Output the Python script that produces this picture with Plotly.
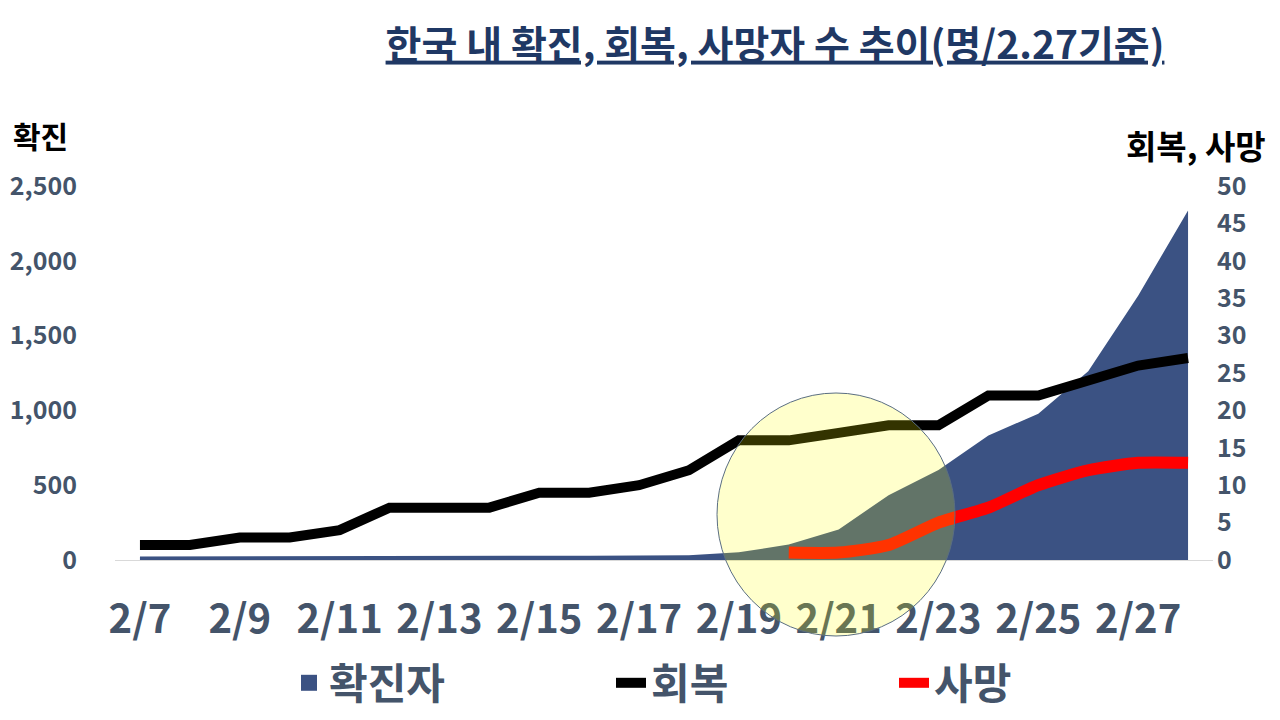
import plotly.graph_objects as go

dates = ["2/7", "2/8", "2/9", "2/10", "2/11", "2/12", "2/13", "2/14", "2/15", "2/16", "2/17",
         "2/18", "2/19", "2/20", "2/21", "2/22", "2/23", "2/24", "2/25", "2/26", "2/27", "2/28"]
confirmed = [24, 24, 25, 27, 28, 28, 28, 28, 28, 29, 30, 31, 51, 104, 204, 433, 602, 833, 977, 1261, 1766, 2337]
recovered = [2, 2, 3, 3, 4, 7, 7, 7, 9, 9, 10, 12, 16, 16, 17, 18, 18, 22, 22, 24, 26, 27]
death_dates = ["2/20", "2/21", "2/22", "2/23", "2/24", "2/25", "2/26", "2/27", "2/28"]
deaths = [1, 1, 2, 5, 7, 10, 12, 13, 13]
tick_labels = ["2/7", "2/9", "2/11", "2/13", "2/15", "2/17", "2/19", "2/21", "2/23", "2/25", "2/27"]

FONT = "Noto Sans CJK KR"
GRAY = "#44546A"
NAVY = "#3B5283"

# page has an 8px body margin: figure pixel = page pixel - 8
OFF = 8
W, H = 1280, 720
PL, PR, PT, PB = 115, 1213, 186, 560  # plot area in page pixels
PW, PH = PR - PL, PB - PT

fig = go.Figure()
fig.add_trace(go.Scatter(
    x=dates, y=confirmed, name="확진자", mode="lines", showlegend=False,
    fill="tozeroy", fillcolor=NAVY, line=dict(color=NAVY, width=0),
    yaxis="y"))
fig.add_trace(go.Scatter(
    x=[None], y=[None], name="<b>확진자</b>", mode="markers",
    marker=dict(symbol="square", color=NAVY, size=22), yaxis="y", legend="legend"))
fig.add_trace(go.Scatter(
    x=dates, y=recovered, name="<b>회복</b>", mode="lines",
    line=dict(color="#000000", width=10), yaxis="y2", legend="legend2"))
fig.add_trace(go.Scatter(
    x=death_dates, y=deaths, name="<b>사망</b>", mode="lines",
    line=dict(color="#FF0000", width=12, shape="spline", smoothing=0.6), yaxis="y2",
    legend="legend3"))

LEG_Y = (PB - 683) / PH
def leg(xpage):
    return dict(
        orientation="h", x=(xpage - PL) / PW, xanchor="left",
        y=LEG_Y, yanchor="middle",
        font=dict(family=FONT, size=42, color=GRAY),
        bgcolor="rgba(0,0,0,0)")

fig.update_layout(
    width=W, height=H,
    margin=dict(l=PL - OFF, r=W - (PR - OFF), t=PT - OFF, b=H - (PB - OFF), autoexpand=False),
    paper_bgcolor="white", plot_bgcolor="white",
    font=dict(family=FONT, color=GRAY),
    showlegend=True,
    title=dict(
        text="<b><u>한국 내 확진, 회복, 사망자 수 추이(명/2.27기준)</u></b>",
        x=(775 - OFF) / W, xanchor="center", xref="container",
        y=1 - (45 - OFF) / H, yanchor="middle", yref="container",
        font=dict(family=FONT, size=39, color="#1F3864")),
    xaxis=dict(
        type="category", categoryorder="array", categoryarray=dates,
        range=[-0.5, len(dates) - 0.5], automargin=False,
        tickmode="array", tickvals=tick_labels, ticktext=["<b>%s</b>" % t for t in tick_labels],
        tickfont=dict(family=FONT, size=40, color=GRAY),
        showgrid=False, zeroline=False,
        showline=True, linecolor="#D9D9D9", linewidth=1,
        ticks="", ticklabelstandoff=24),
    yaxis=dict(
        range=[0, 2500], tickmode="linear", tick0=0, dtick=500, automargin=False,
        tickformat=",", tickprefix="<b>", ticksuffix="</b>",
        tickfont=dict(family=FONT, size=25, color=GRAY),
        showgrid=False, zeroline=False, showline=False,
        ticks="", ticklabelstandoff=37),
    yaxis2=dict(
        range=[0, 50], tickmode="linear", tick0=0, dtick=5, automargin=False,
        overlaying="y", side="right",
        tickprefix="<b>", ticksuffix="</b>",
        tickfont=dict(family=FONT, size=25, color=GRAY),
        showgrid=False, zeroline=False, showline=False,
        ticks="", ticklabelstandoff=3),
    legend=leg(289),
    legend2=leg(611),
    legend3=leg(894),
)

fig.add_annotation(
    text="<b>확진</b>", xref="paper", yref="paper",
    x=(40 - PL) / PW, y=(PB - 135) / PH, xanchor="center", yanchor="middle",
    showarrow=False, font=dict(family=FONT, size=30, color="#000000"))
fig.add_annotation(
    text="<b>회복, 사망</b>", xref="paper", yref="paper",
    x=(1196 - PL) / PW, y=(PB - 145) / PH, xanchor="center", yanchor="middle",
    showarrow=False, font=dict(family=FONT, size=33, color="#000000"))

fig.add_shape(
    type="circle", xref="paper", yref="paper",
    x0=(717 - PL) / PW, x1=(955 - PL) / PW,
    y0=(PB - 636) / PH, y1=(PB - 393) / PH,
    fillcolor="rgba(255,255,0,0.2)", line=dict(color="#5A6E82", width=1),
    layer="above")

fig.write_html("out.html")
